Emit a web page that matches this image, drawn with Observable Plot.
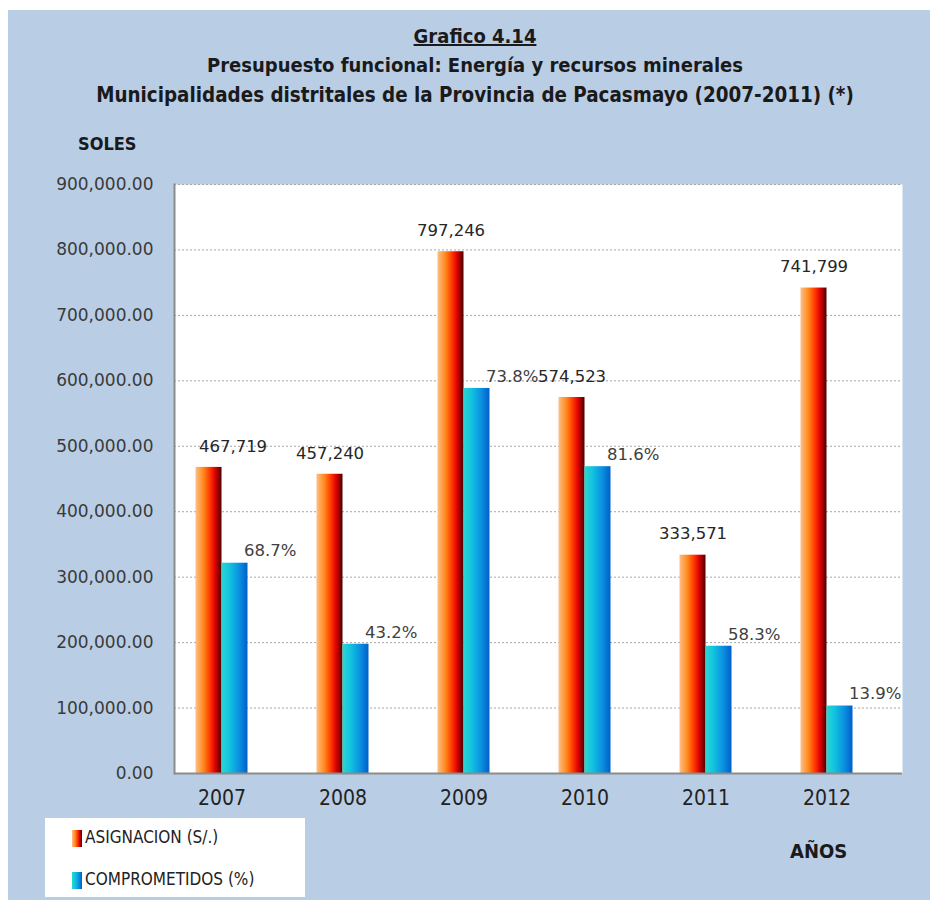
<!DOCTYPE html>
<html><head><meta charset="utf-8">
<script src="https://cdn.jsdelivr.net/npm/d3@7"></script>
<script src="https://cdn.jsdelivr.net/npm/@observablehq/plot@0.6"></script>
<style>
body{margin:0;background:#fff;}
#wrap{position:relative;width:930px;height:902px;overflow:hidden;}
#bg{position:absolute;left:8px;top:10px;width:922px;height:890px;background:#b9cde5;}
#chart{position:absolute;left:0;top:0;}
.t{position:absolute;left:10px;width:930px;text-align:center;font-family:"Liberation Sans Narrow","DejaVu Sans Condensed",sans-serif;font-weight:bold;color:#1a1a1a;white-space:nowrap;line-height:1;}
.lab{position:absolute;font-family:"Liberation Sans Narrow","DejaVu Sans Condensed",sans-serif;font-weight:bold;color:#1a1a1a;white-space:nowrap;line-height:1;}
#legend{position:absolute;left:45px;top:818px;width:260px;height:79px;background:#fff;}
.li{position:absolute;left:27px;font-family:"Liberation Sans Narrow","DejaVu Sans Condensed",sans-serif;font-size:17px;color:#222;white-space:nowrap;line-height:1;}
.li svg{vertical-align:middle;margin-right:3px;}
</style></head><body>
<div id="wrap">
<div id="bg"></div>
<div id="chart"></div>
<div class="t" style="top:26px;font-size:20px;"><span style="text-decoration:underline;">Grafico 4.14</span></div>
<div class="t" style="top:55px;font-size:20px;">Presupuesto funcional: Energía y recursos minerales</div>
<div class="t" style="top:85px;font-size:20.4px;">Municipalidades distritales de la Provincia de Pacasmayo (2007-2011) (*)</div>
<div class="lab" style="left:78px;top:135px;font-size:18px;">SOLES</div>
<div class="lab" style="left:790px;top:841px;font-size:20px;">AÑOS</div>
<div id="legend"></div>
</div>
<script>
const years = ["2007", "2008", "2009", "2010", "2011", "2012"];
const asignacion = [467719, 457240, 797246, 574523, 333571, 741799];
const comprometidos = [321323, 197528, 588368, 468811, 194472, 103110];
const pctLabels = ["68.7%", "43.2%", "73.8%", "81.6%", "58.3%", "13.9%"];
const yTicks = [0, 100000, 200000, 300000, 400000, 500000, 600000, 700000, 800000, 900000];
const legendItems = ["ASIGNACION (S/.)", "COMPROMETIDOS (%)"];

const rows = years.map((y, i) => ({year: y, asig: asignacion[i], comp: comprometidos[i], pct: pctLabels[i]}));

const step = 121, barW = 26;
const narrow = '"Liberation Sans Narrow","DejaVu Sans Condensed",sans-serif';

const plot = Plot.plot({
  width: 930, height: 902,
  marginLeft: 174, marginTop: 184, marginRight: 28, marginBottom: 129,
  style: {background: "transparent", fontFamily: "DejaVu Sans", fontSize: "16px", color: "#404040", overflow: "visible"},
  x: {domain: years, range: [160.5, 886.5], padding: 0, label: null},
  y: {domain: [0, 900000], label: null},
  marks: [
    Plot.frame({fill: "white", stroke: null}),
    Plot.gridY(yTicks.slice(1), {stroke: "#a6a6a6", strokeOpacity: 1, strokeDasharray: "2,2"}),
    Plot.barY(rows, {x: "year", y: "asig", fill: "url(#gOrange)", insetLeft: step / 2 - barW, insetRight: step / 2}),
    Plot.barY(rows, {x: "year", y: "comp", fill: "url(#gCyan)", insetLeft: step / 2, insetRight: step / 2 - barW}),
    Plot.ruleY([0], {stroke: "#8c8c8c", strokeWidth: 2}),
    Plot.frame({anchor: "left", stroke: "#8c8c8c", strokeWidth: 2}),
    Plot.text(rows.filter(d => d.year !== "2007"), {x: "year", y: "asig", text: d => d3.format(",")(d.asig), dx: -13, dy: -21, fontSize: 16.5, fill: "#262626", lineAnchor: "middle"}),
    Plot.text(rows.filter(d => d.year === "2007"), {x: "year", y: "asig", text: d => d3.format(",")(d.asig), dx: 11, dy: -21, fontSize: 16.5, fill: "#262626", lineAnchor: "middle"}),
    Plot.text(rows, {x: "year", y: "comp", text: "pct", textAnchor: "start", dx: 22, dy: -12, fontSize: 16.5, fill: "#404040", lineAnchor: "middle"}),
    Plot.axisY({ticks: yTicks, tickFormat: d3.format(",.2f"), tickSize: 0, tickPadding: 21, fontSize: 17, fill: "#3a3a3a"}),
    Plot.axisX({tickSize: 0, tickPadding: 17, fontSize: 21, fontFamily: narrow, fill: "#222"})
  ]
});

const svg = d3.select(plot);
const defs = svg.insert("defs", ":first-child");
function grad(sel, id, stops) {
  const g = sel.append("linearGradient").attr("id", id).attr("x1", "0").attr("x2", "1").attr("y1", "0").attr("y2", "0");
  stops.forEach(([o, c]) => g.append("stop").attr("offset", o).attr("stop-color", c));
}
const orangeStops = [[0, "#fdbf8a"], [0.3, "#ff8a1c"], [0.55, "#ff3a00"], [0.75, "#e00000"], [1, "#4a0000"]];
const cyanStops = [[0, "#2ad6cf"], [0.3, "#12c4e0"], [0.7, "#0a8de0"], [1, "#005fc8"]];
grad(defs, "gOrange", orangeStops);
grad(defs, "gCyan", cyanStops);
document.getElementById("chart").appendChild(plot);

// legend
const leg = document.getElementById("legend");
const legendGrads = ["lgO", "lgC"];
legendItems.forEach((name, i) => {
  const div = document.createElement("div");
  div.className = "li";
  div.style.top = (i === 0 ? 11 : 53) + "px";
  const s = d3.create("svg").attr("width", 10).attr("height", 17);
  grad(s.append("defs"), legendGrads[i], i === 0 ? orangeStops : cyanStops);
  s.append("rect").attr("width", 10).attr("height", 17).attr("fill", `url(#${legendGrads[i]})`);
  div.appendChild(s.node());
  div.appendChild(document.createTextNode(name));
  leg.appendChild(div);
});
</script>
</body></html>
